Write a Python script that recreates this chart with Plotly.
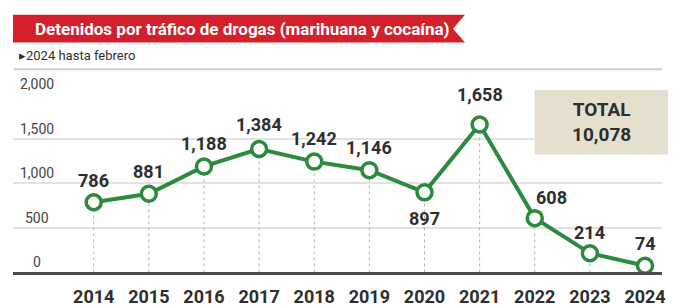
import plotly.graph_objects as go

years = [2014, 2015, 2016, 2017, 2018, 2019, 2020, 2021, 2022, 2023, 2024]
detenidos = [786, 881, 1188, 1384, 1242, 1146, 897, 1658, 608, 214, 74]
year_labels = [str(y) for y in years]
y_ticks = [0, 500, 1000, 1500, 2000]
y_tick_labels = ["0", "500", "1,000", "1,500", "2,000"]
title_text = "Detenidos por tráfico de drogas (marihuana y cocaína)"
subtitle_text = "▸2024 hasta febrero"
total_text = "TOTAL<br>10,078"

W, H = 694, 307
OFF = 3  # vertical pixel correction
GREEN = "#2b8a3c"
RED = "#d4202a"
DARK = "#2e2e2e"
FONT = "Roboto, Liberation Sans, sans-serif"

def px(x):
    return x / W

def py(y):
    return 1 - (y + OFF) / H

fig = go.Figure()

# vertical dotted guide lines
vx, vy = [], []
for x, v in zip(years, detenidos):
    vx += [x, x, None]
    vy += [0, v, None]
fig.add_trace(go.Scatter(x=vx, y=vy, mode="lines",
                         line=dict(color="#b5b5b5", width=1, dash="dot"),
                         hoverinfo="skip", showlegend=False))

fig.add_trace(go.Scatter(
    x=years, y=detenidos, mode="lines+markers",
    line=dict(color=GREEN, width=4),
    marker=dict(size=15, color="white", line=dict(color=GREEN, width=3.5)),
    cliponaxis=False, showlegend=False))

# label offsets (style)
yshifts = [22, 22, 23, 24, 23, 23, -26, 30, 21, 21, 22]
xshifts = [0, 0, 0, 0, 0, 0, 0, 0, 17, 0, 0]
annotations = []
for x, v, ys, xs in zip(years, detenidos, yshifts, xshifts):
    annotations.append(dict(x=x, y=v, xref="x", yref="y", text=f"{v:,}",
                            showarrow=False, yshift=ys, xshift=xs,
                            xanchor="center", yanchor="middle",
                            font=dict(family=FONT, size=18, color=DARK, weight="bold")))

for t, lab in zip(y_ticks, y_tick_labels):
    annotations.append(dict(x=px(37), y=t, xref="paper", yref="y", text=lab,
                            showarrow=False, yshift=10,
                            xanchor="center", yanchor="middle",
                            font=dict(family=FONT, size=14, color="#444")))

annotations.append(dict(x=px(604), y=py(120), xref="paper", yref="paper",
                        text=f"<b>{total_text}</b>", showarrow=False, align="center",
                        xanchor="center", yanchor="middle",
                        font=dict(family=FONT, size=19, color=DARK)))
annotations.append(dict(x=px(33), y=py(26), xref="paper", yref="paper",
                        xanchor="left", yanchor="middle",
                        text=f"<b>{title_text}</b>", showarrow=False,
                        font=dict(family=FONT, size=17, color="white")))
annotations.append(dict(x=px(17), y=py(53), xref="paper", yref="paper",
                        xanchor="left", yanchor="middle",
                        text=subtitle_text, showarrow=False,
                        font=dict(family=FONT, size=13, color=DARK)))

shapes = [
    dict(type="path", xref="paper", yref="paper",
         path=f"M {px(13)},{py(12)} L {px(467)},{py(12)} L {px(455)},{py(26)} "
              f"L {px(467)},{py(40)} L {px(13)},{py(40)} Z",
         fillcolor=RED, line=dict(width=0), layer="below"),
    dict(type="line", xref="paper", yref="paper", x0=px(14), x1=px(665),
         y0=py(67), y1=py(67), line=dict(color="#cfcfcf", width=2)),
    dict(type="rect", xref="paper", yref="paper", x0=px(537), x1=px(671),
         y0=py(153), y1=py(88), fillcolor="#e5e0cd", line=dict(width=0),
         layer="below"),
]

fig.update_layout(
    width=W, height=H, margin=dict(l=0, r=0, t=0, b=0),
    paper_bgcolor="white", plot_bgcolor="white",
    annotations=annotations, shapes=shapes,
    xaxis=dict(domain=[px(13), px(665)], range=[2012.535, 2024.31],
               tickvals=years, ticktext=year_labels, showgrid=False,
               zeroline=False, showline=True, linecolor="#4a4a4a", linewidth=2.5,
               ticks="", ticklabelstandoff=6,
               tickfont=dict(family=FONT, size=18, color=DARK, weight="bold")),
    yaxis=dict(domain=[py(272), py(92)], range=[0, 2000], tickvals=y_ticks,
               showticklabels=False, showgrid=True, gridcolor="#e2e2e2",
               gridwidth=1.5, zeroline=False),
)

fig.write_html("out.html", config={"displayModeBar": False},
               post_script="document.body.style.margin='0';document.body.style.overflow='hidden';")
